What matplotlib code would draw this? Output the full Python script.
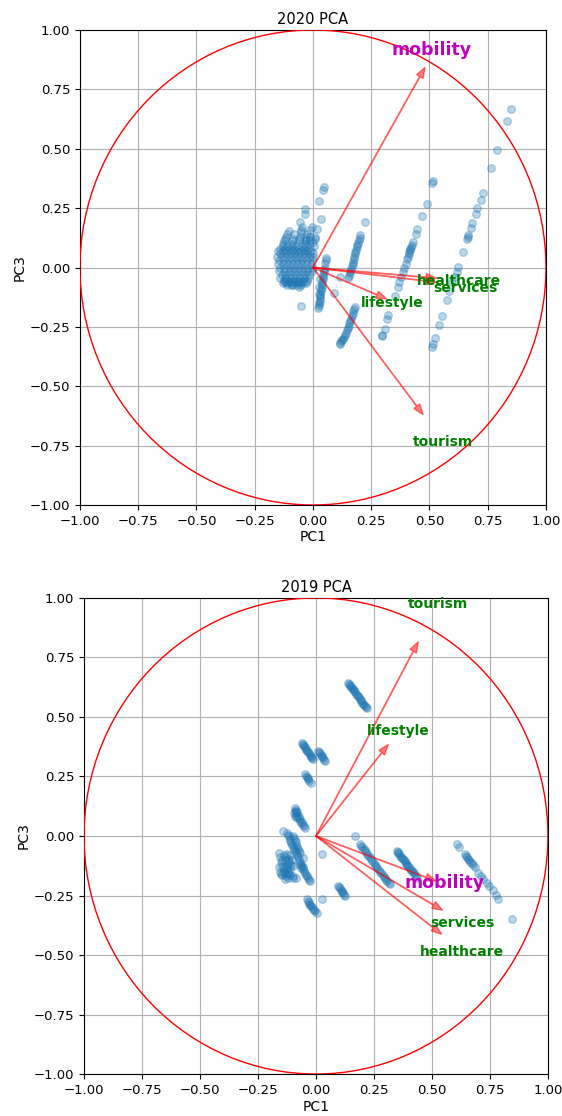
import matplotlib
matplotlib.use("Agg")
import matplotlib.pyplot as plt
import numpy as np

# ---------------- 2020 data ----------------
pts2020_x = [
    # main blob rows
    -0.14,-0.12,-0.10,-0.08,-0.06,-0.04,-0.02,
    -0.13,-0.11,-0.09,-0.07,-0.05,-0.03,
    -0.15,-0.13,-0.11,-0.09,-0.07,-0.05,-0.03,-0.01,
    -0.14,-0.12,-0.10,-0.08,-0.06,-0.04,-0.02,0.0,
    -0.155,-0.135,-0.115,-0.095,-0.075,-0.055,-0.035,-0.015,0.0,
    -0.145,-0.125,-0.105,-0.085,-0.065,-0.045,-0.025,-0.005,
    -0.15,-0.13,-0.11,-0.09,-0.07,-0.05,-0.03,-0.01,
    -0.14,-0.12,-0.10,-0.08,-0.06,-0.04,-0.02,0.0,
    -0.145,-0.125,-0.105,-0.085,-0.065,-0.045,-0.025,-0.005,
    -0.135,-0.115,-0.095,-0.075,-0.055,-0.035,-0.015,
    -0.14,-0.12,-0.10,-0.08,-0.06,-0.04,-0.02,
    -0.125,-0.105,-0.085,-0.065,-0.045,-0.025,
    -0.13,-0.11,-0.09,-0.07,-0.05,-0.03,
    -0.11,-0.09,-0.07,-0.05,
    -0.12,-0.10,-0.08,-0.06,-0.04,
    -0.06,-0.09,
    # fingers
    -0.13,-0.12,-0.11,-0.105,-0.09,-0.085,-0.08,-0.06,-0.055,-0.05,-0.055,-0.045,
    -0.035,-0.03,-0.025,-0.034,-0.034,-0.015,-0.012,-0.013,-0.005,0.0,0.01,0.016,0.005,
    -0.125,-0.115,-0.088,-0.058,-0.05,-0.032,-0.028,-0.014,0.008,
    # outliers near blob
    0.047,0.045,0.027,0.034,-0.053,-0.12,
    # streak A
    0.056,0.054,0.052,0.05,0.048,0.046,0.044,0.043,0.041,0.04,0.038,0.037,0.035,0.034,
    0.032,0.031,0.029,0.028,0.026,0.025,0.024,0.022,0.09,
    0.03,0.027,0.024,
    # streak B upper
    0.223,0.202,0.2,0.197,0.193,0.19,0.187,0.185,0.182,0.18,0.177,0.175,0.172,0.17,
    0.166,0.163,0.16,0.157,0.154,0.15,0.116,
    # streak B lower
    0.18,0.176,0.173,0.17,0.167,0.163,0.16,0.156,0.153,0.15,0.146,0.142,0.138,0.134,
    0.13,0.126,0.122,0.118,0.114,
    # streak C
    0.516,0.512,0.488,0.468,0.445,0.442,0.43,0.425,0.42,0.418,0.416,0.414,0.41,0.406,
    0.402,0.399,0.392,0.385,0.378,0.37,0.365,0.352,0.323,0.319,0.309,0.298,0.295,
    # streak D
    0.85,0.831,0.79,0.764,0.728,0.72,0.705,0.698,0.684,0.678,0.667,0.665,0.662,0.642,
    0.624,0.617,0.605,0.595,0.585,0.577,0.554,0.541,0.524,0.515,0.509,
]
pts2020_y = [
    0.08,0.08,0.08,0.08,0.08,0.08,0.08,
    0.09,0.09,0.09,0.09,0.09,0.09,
    0.07,0.07,0.07,0.07,0.07,0.07,0.07,0.07,
    0.06,0.06,0.06,0.06,0.06,0.06,0.06,0.06,
    0.045,0.045,0.045,0.045,0.045,0.045,0.045,0.045,0.045,
    0.03,0.03,0.03,0.03,0.03,0.03,0.03,0.03,
    0.015,0.015,0.015,0.015,0.015,0.015,0.015,0.015,
    0.0,0.0,0.0,0.0,0.0,0.0,0.0,0.0,
    -0.015,-0.015,-0.015,-0.015,-0.015,-0.015,-0.015,-0.015,
    -0.03,-0.03,-0.03,-0.03,-0.03,-0.03,-0.03,
    -0.045,-0.045,-0.045,-0.045,-0.045,-0.045,-0.045,
    -0.055,-0.055,-0.055,-0.055,-0.055,-0.055,
    -0.065,-0.065,-0.065,-0.065,-0.065,-0.065,
    -0.075,-0.075,-0.075,-0.075,
    -0.06,-0.06,-0.06,-0.06,-0.06,
    -0.08,-0.075,
    0.10,0.12,0.14,0.155,0.10,0.12,0.14,0.11,0.13,0.15,0.19,0.17,
    0.10,0.12,0.14,0.225,0.247,0.10,0.13,0.156,0.17,0.107,0.13,0.163,0.09,
    0.11,0.13,0.11,0.12,0.16,0.11,0.13,0.115,0.12,
    0.338,0.325,0.282,0.205,-0.16,-0.048,
    0.04,0.03,0.02,0.0,-0.01,-0.02,-0.03,-0.04,-0.05,-0.06,-0.07,-0.08,-0.09,-0.10,
    -0.11,-0.12,-0.13,-0.14,-0.145,-0.155,-0.162,-0.17,-0.108,
    -0.05,-0.08,-0.11,
    0.191,0.135,0.125,0.115,0.105,0.095,0.085,0.075,0.065,0.055,0.045,0.035,0.025,0.015,
    0.005,-0.005,-0.015,-0.025,-0.035,-0.045,-0.04,
    -0.167,-0.176,-0.185,-0.195,-0.205,-0.215,-0.225,-0.235,-0.245,-0.255,-0.265,-0.275,-0.285,-0.293,
    -0.30,-0.305,-0.31,-0.316,-0.322,
    0.366,0.355,0.268,0.215,0.163,0.139,0.107,0.096,0.085,0.08,0.075,0.065,0.055,0.046,
    0.037,0.016,0.0,-0.02,-0.04,-0.062,-0.08,-0.118,-0.20,-0.216,-0.258,-0.283,-0.29,
    0.668,0.616,0.496,0.418,0.313,0.286,0.251,0.226,0.187,0.166,0.135,0.13,0.118,0.065,
    0.004,-0.02,-0.04,-0.062,-0.097,-0.135,-0.204,-0.244,-0.296,-0.32,-0.336,
]

features = ["mobility", "healthcare", "services", "lifestyle", "tourism"]
load2020_x = [0.481, 0.530, 0.530, 0.316, 0.473]
load2020_y = [0.843, -0.045, -0.062, -0.132, -0.620]
text2020_x = [0.509, 0.627, 0.652, 0.340, 0.557]
text2020_y = [0.917, -0.058, -0.085, -0.150, -0.735]

# ---------------- 2019 data ----------------
pts2019_x = [
    # streak U
    0.139,0.142,0.145,0.148,0.152,0.155,0.158,0.162,0.165,0.168,0.172,0.176,0.18,0.184,
    0.188,0.192,0.196,0.2,0.204,0.208,0.211,0.215,0.218,
    # V1
    -0.062,-0.058,-0.055,-0.051,-0.048,-0.044,-0.041,-0.037,-0.034,-0.03,-0.027,-0.023,-0.02,-0.016,-0.012,
    # V2
    0.01,0.013,0.017,0.02,0.024,0.027,0.031,0.035,0.039,
    # V3
    -0.047,-0.043,-0.04,-0.036,-0.033,-0.028,-0.023,
    # V4
    -0.091,-0.088,-0.086,-0.092,-0.085,-0.078,-0.07,-0.065,-0.058,-0.047,-0.095,-0.08,
    -0.09,-0.082,-0.074,-0.068,-0.062,-0.052,
    # lower blob diagonal
    -0.126,-0.122,-0.118,-0.114,-0.11,-0.106,-0.102,-0.098,-0.094,-0.09,-0.086,-0.082,-0.078,
    -0.074,-0.07,-0.066,-0.062,-0.058,-0.054,-0.05,-0.046,-0.042,-0.038,-0.034,-0.03,-0.026,
    -0.10,-0.096,-0.092,-0.088,-0.084,-0.08,-0.076,-0.072,-0.068,
    # lower-left cluster
    -0.155,-0.14,-0.125,-0.11,-0.15,-0.135,-0.12,-0.105,-0.16,-0.145,-0.13,-0.115,-0.10,
    -0.155,-0.14,-0.125,-0.11,-0.145,-0.13,-0.115,-0.10,-0.135,-0.12,-0.085,-0.07,-0.065,
    -0.16,-0.098,-0.055,-0.141,
    -0.148,-0.132,-0.118,-0.14,-0.125,-0.108,-0.152,-0.138,-0.122,-0.128,-0.112,
    # outliers
    0.168,0.025,0.024,
    # W1
    0.19,0.195,0.20,0.205,0.21,0.215,0.22,0.226,0.232,0.238,0.243,0.249,0.255,0.26,
    0.265,0.27,0.276,0.282,0.287,0.293,0.298,0.303,0.308,0.314,0.319,
    # W2
    0.348,0.352,0.355,0.358,0.362,0.366,0.37,0.374,0.378,0.382,0.386,0.39,0.394,0.398,
    0.402,0.406,0.41,0.414,0.418,0.422,0.426,0.43,0.434,
    # W3
    0.606,0.615,0.642,0.646,0.65,0.655,0.66,0.666,0.672,0.678,0.685,0.70,0.71,0.722,
    0.736,0.748,0.761,0.775,0.786,0.843,
    # small streaks
    0.096,0.1,0.103,0.107,0.11,0.114,0.118,0.122,0.125,
    -0.04,-0.036,-0.032,-0.028,-0.024,-0.02,-0.016,-0.012,-0.008,-0.003,0.003,
]
pts2019_y = [
    0.644,0.64,0.635,0.63,0.626,0.622,0.617,0.612,0.608,0.603,0.598,0.593,0.588,0.582,
    0.577,0.571,0.566,0.56,0.555,0.55,0.546,0.541,0.536,
    0.392,0.387,0.382,0.377,0.372,0.367,0.362,0.357,0.352,0.347,0.342,0.337,0.332,0.327,0.322,
    0.357,0.352,0.347,0.342,0.337,0.331,0.326,0.32,0.315,
    0.259,0.254,0.249,0.244,0.238,0.231,0.224,
    0.119,0.11,0.10,0.085,0.08,0.075,0.065,0.055,0.048,0.035,0.095,0.09,
    0.105,0.1,0.085,0.07,0.06,0.042,
    0.014,0.006,-0.002,-0.011,-0.02,-0.029,-0.038,-0.046,-0.055,-0.063,-0.072,-0.081,-0.09,
    -0.099,-0.108,-0.116,-0.125,-0.132,-0.14,-0.148,-0.155,-0.162,-0.17,-0.176,-0.183,-0.189,
    0.0,-0.009,-0.018,-0.027,-0.036,-0.045,-0.054,-0.063,-0.072,
    -0.09,-0.08,-0.075,-0.08,-0.11,-0.10,-0.095,-0.10,-0.13,-0.125,-0.12,-0.115,-0.125,
    -0.15,-0.145,-0.14,-0.14,-0.165,-0.16,-0.16,-0.17,-0.18,-0.175,-0.175,-0.12,-0.135,
    -0.07,-0.175,-0.091,0.021,
    -0.1,-0.09,-0.105,-0.135,-0.13,-0.12,-0.16,-0.155,-0.15,-0.17,-0.165,
    0.0,-0.077,-0.266,
    -0.035,-0.041,-0.048,-0.054,-0.06,-0.067,-0.075,-0.082,-0.09,-0.097,-0.105,-0.112,-0.12,-0.127,
    -0.135,-0.142,-0.15,-0.157,-0.165,-0.171,-0.178,-0.184,-0.19,-0.197,-0.203,
    -0.063,-0.067,-0.072,-0.077,-0.082,-0.087,-0.092,-0.097,-0.102,-0.107,-0.112,-0.117,-0.122,-0.127,
    -0.132,-0.137,-0.142,-0.147,-0.152,-0.157,-0.163,-0.169,-0.175,
    -0.032,-0.045,-0.077,-0.084,-0.09,-0.095,-0.10,-0.108,-0.115,-0.122,-0.13,-0.154,-0.168,-0.18,
    -0.196,-0.21,-0.228,-0.248,-0.266,-0.35,
    -0.21,-0.215,-0.22,-0.225,-0.23,-0.236,-0.241,-0.246,-0.252,
    -0.266,-0.272,-0.278,-0.284,-0.29,-0.295,-0.30,-0.305,-0.31,-0.316,-0.322,
]

load2019_x = [0.517, 0.542, 0.546, 0.312, 0.441]
load2019_y = [-0.189, -0.413, -0.312, 0.385, 0.816]
text2019_x = [0.556, 0.628, 0.632, 0.353, 0.527]
text2019_y = [-0.196, -0.487, -0.364, 0.441, 0.973]

ticks = [-1.00, -0.75, -0.50, -0.25, 0.00, 0.25, 0.50, 0.75, 1.00]

fig = plt.figure(figsize=(5.62, 11.16), dpi=100)
ax1 = fig.add_axes([0.1423, 0.5475, 0.8292, 0.4256])
ax2 = fig.add_axes([0.1495, 0.0376, 0.8255, 0.4266])

def draw(ax, px, py, lx, ly, tx, ty, title):
    ax.scatter(px, py, s=30, color='tab:blue', alpha=0.3, zorder=2)
    for name, x, y, xt, yt in zip(features, lx, ly, tx, ty):
        ax.arrow(0, 0, x, y, color='r', alpha=0.5, width=0.002,
                 head_width=0.032, head_length=0.045, length_includes_head=True, zorder=3)
        if name == "mobility":
            ax.text(xt, yt, name, color='m', ha='center', va='center',
                    fontsize=12.5, fontweight='bold', zorder=4)
        else:
            ax.text(xt, yt, name, color='g', ha='center', va='center',
                    fontsize=10, fontweight='bold', zorder=4)
    circ = plt.Circle((0, 0), 1, color='r', fill=False, linewidth=1, zorder=3)
    ax.add_patch(circ)
    ax.set_xlim(-1, 1)
    ax.set_ylim(-1, 1)
    ax.set_xticks(ticks)
    ax.set_yticks(ticks)
    ax.tick_params(labelsize=9.5)
    ax.grid(True, zorder=0)
    ax.set_axisbelow(True)
    ax.set_xlabel("PC1", fontsize=10, labelpad=2)
    ax.set_ylabel("PC3", fontsize=10, labelpad=2)
    ax.set_title(title, fontsize=10.5, pad=4)

draw(ax1, pts2020_x, pts2020_y, load2020_x, load2020_y, text2020_x, text2020_y, "2020 PCA")
draw(ax2, pts2019_x, pts2019_y, load2019_x, load2019_y, text2019_x, text2019_y, "2019 PCA")

fig.savefig("out.png", dpi=100)
